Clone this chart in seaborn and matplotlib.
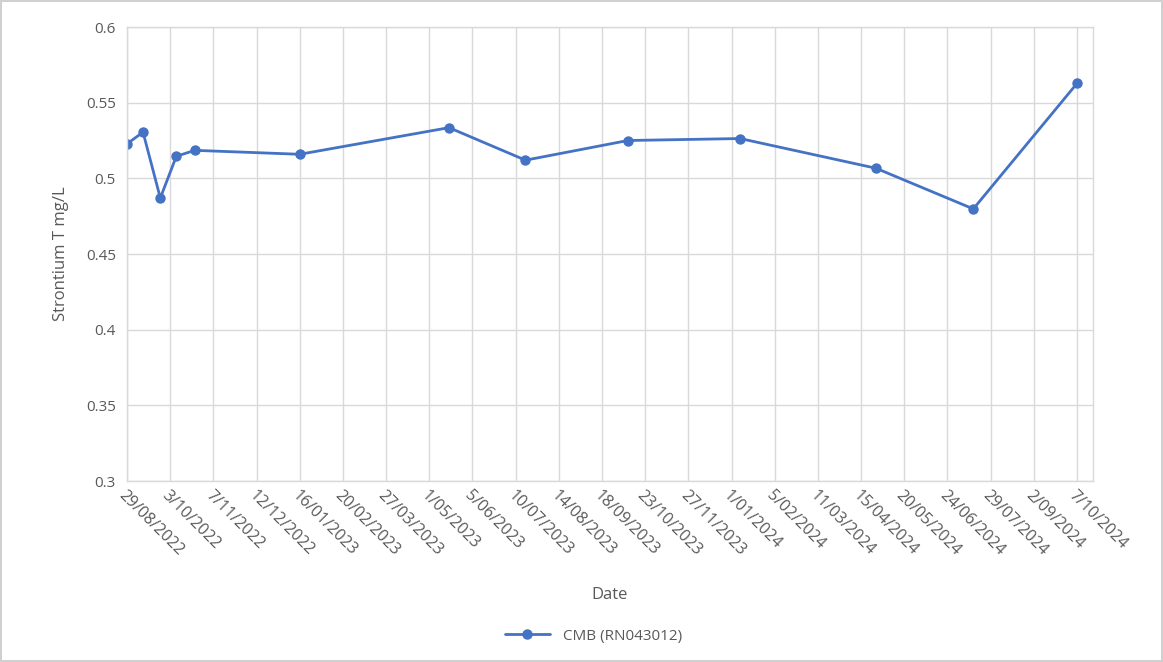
import matplotlib
matplotlib.use("Agg")
import matplotlib.pyplot as plt
import pandas as pd
import seaborn as sns

# Sample dates and strontium concentrations
sample_dates = ["2022-08-29", "2022-09-11", "2022-09-25", "2022-10-08", "2022-10-23",
                "2023-01-16", "2023-05-17", "2023-07-18", "2023-10-09", "2024-01-08",
                "2024-04-27", "2024-07-15", "2024-10-07"]
strontium = [0.5228, 0.5305, 0.487, 0.5146, 0.5185,
             0.5159, 0.5335, 0.512, 0.525, 0.5263,
             0.5067, 0.4798, 0.5627]
series_name = "CMB (RN043012)"
y_ticks = [0.3, 0.35, 0.4, 0.45, 0.5, 0.55, 0.6]
y_tick_labels = ["0.3", "0.35", "0.4", "0.45", "0.5", "0.55", "0.6"]

df = pd.DataFrame({"Date": pd.to_datetime(sample_dates),
                   "Strontium": strontium,
                   "Series": series_name})

sns.set_style("white")
plt.rcParams["font.family"] = ["Open Sans", "DejaVu Sans"]

text_col = "#595959"
grid_col = "#D9D9D9"
line_col = "#4472C4"

fig = plt.figure(figsize=(11.63, 6.62), dpi=100)
fig.patch.set_edgecolor("#D0D0D0")
fig.patch.set_linewidth(1.5)
ax = fig.add_axes([0.1092, 0.2734, 0.8306, 0.6858])

sns.lineplot(data=df, x="Date", y="Strontium", hue="Series", palette=[line_col],
             marker="o", markersize=7.5, markeredgewidth=0, linewidth=2, ax=ax,
             legend=False)

# Date axis: one tick every 35 days from the first sample
start = pd.Timestamp("2022-08-29")
ticks = pd.date_range(start, periods=23, freq="35D")
ax.set_xlim(start, pd.Timestamp("2024-10-20"))
ax.set_xticks(ticks)
ax.set_xticklabels([f"{d.day}/{d.month:02d}/{d.year}" for d in ticks],
                   rotation=-45, ha="left", va="top", rotation_mode="anchor",
                   fontsize=11.5, color=text_col)
ax.set_ylim(0.3, 0.6)
ax.set_yticks(y_ticks)
ax.set_yticklabels(y_tick_labels, fontsize=11, color=text_col)
ax.tick_params(axis="y", length=0, pad=8)
ax.tick_params(axis="x", length=0, pad=5)

ax.grid(True, color=grid_col, linewidth=1)
ax.set_axisbelow(True)
for s in ax.spines.values():
    s.set_color(grid_col)
    s.set_linewidth(1)

ax.set_xlabel("Date", fontsize=12, color=text_col, labelpad=20)
ax.set_ylabel("Strontium T mg/L", fontsize=12, color=text_col, labelpad=12)

# Legend below the axes
handle = plt.Line2D([], [], color=line_col, marker="o", markersize=7.5,
                    markeredgewidth=0, linewidth=2)
fig.legend([handle], [series_name], loc="center", bbox_to_anchor=(0.51, 0.039),
           frameon=False, fontsize=11, labelcolor=text_col, handlelength=3)

fig.savefig("out.png", dpi=100, edgecolor=fig.get_edgecolor())
